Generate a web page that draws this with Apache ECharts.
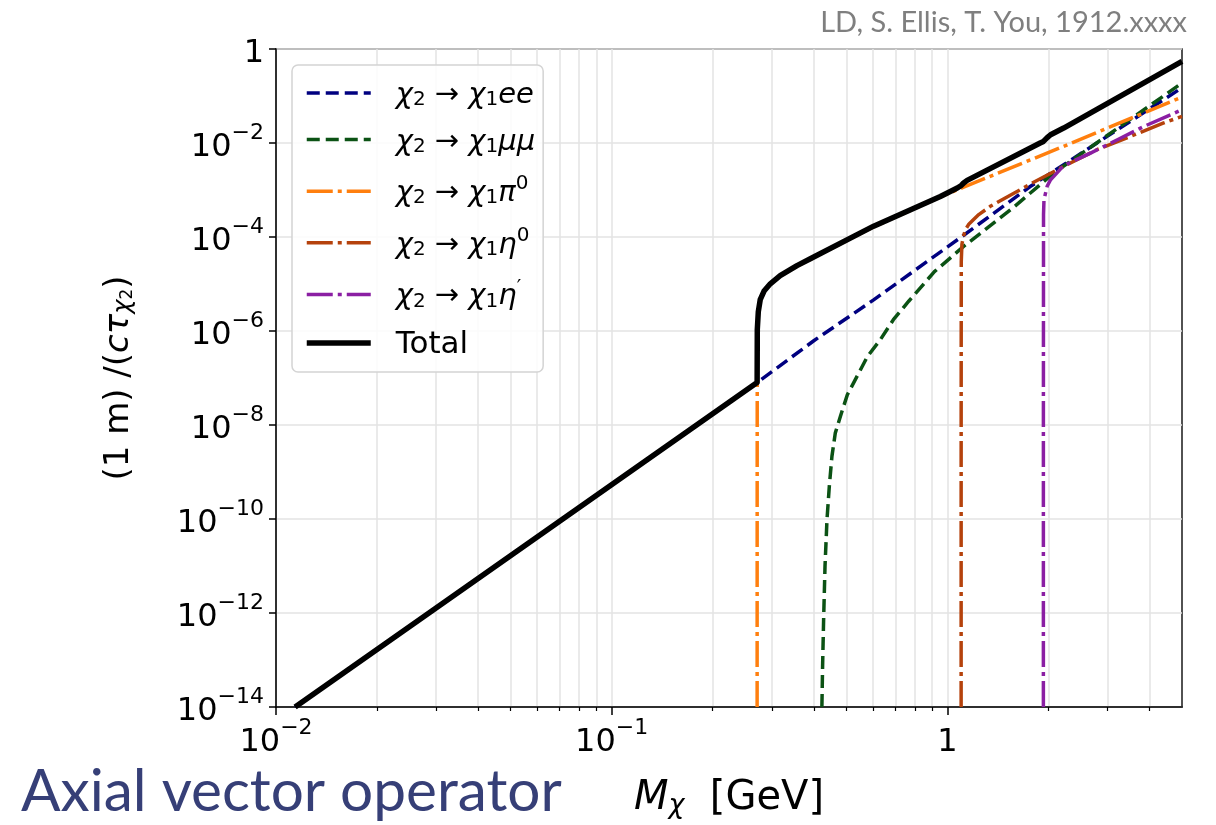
<!DOCTYPE html>
<html>
<head>
<meta charset="utf-8">
<script src="https://cdn.jsdelivr.net/npm/echarts@6/dist/echarts.min.js"></script>
<style>
  html, body { margin: 0; padding: 0; background: #fff; }
  #container { width: 1216px; height: 825px; }
</style>
</head>
<body>
<div id="container"></div>
<script>
// 1/(c tau) in units of 1/m versus M_chi in GeV
const eeMass = [0.0114, 0.2712, 0.40, 0.603, 1.10, 1.77, 2.79, 5.0];
const eeRate = [1e-14, 8.0e-8, 6.2e-7, 4.6e-6, 1.0e-4, 1.2e-3, 1.0e-2, 0.15];

const muMass = [0.4229, 0.4249, 0.4279, 0.432, 0.4379, 0.4449, 0.453, 0.4637, 0.48, 0.5035, 0.538, 0.5775, 0.631, 0.6904, 0.767, 0.915, 1.118, 1.576, 2.075, 5.0];
const muRate = [1e-14, 7.3e-14, 7.2e-13, 9.8e-12, 9.7e-11, 4.9e-10, 2.15e-9, 6.8e-9, 1.52e-8, 4.4e-8, 1.08e-7, 2.84e-7, 6.5e-7, 1.74e-6, 4.3e-6, 1.83e-5, 6.3e-5, 4.3e-4, 2.3e-3, 0.189];

const piMass = [0.2712, 0.2713, 0.2714, 0.2715, 0.2734, 0.277, 0.2848, 0.2968, 0.3176, 0.3564, 0.3906, 0.603, 0.953, 1.118, 2.22, 5.0];
const piRate = [1e-14, 1e-9, 1e-7, 1.0e-6, 2.5e-6, 4.55e-6, 7.1e-6, 9.9e-6, 1.47e-5, 2.4e-5, 3.35e-5, 1.65e-4, 7.1e-4, 1.15e-3, 8.5e-3, 0.095];

const etaMass = [1.099, 1.0992, 1.1, 1.105, 1.115, 1.132, 1.16, 1.24, 1.343, 1.79, 2.22, 2.79, 3.51, 4.41, 5.0];
const etaRate = [1e-14, 1e-8, 3e-5, 7e-5, 1.0e-4, 1.43e-4, 1.9e-4, 3.0e-4, 4.5e-4, 1.41e-3, 3.18e-3, 7.2e-3, 1.38e-2, 2.67e-2, 0.037];

const etapMass = [1.932, 1.9322, 1.934, 1.94, 1.983, 2.03, 2.075, 2.22, 2.67, 3.21, 3.85, 5.0];
const etapRate = [1e-14, 1e-8, 3e-4, 6.2e-4, 1.2e-3, 1.66e-3, 1.95e-3, 3.3e-3, 6.1e-3, 1.17e-2, 2.25e-2, 0.051];

const totalMass = [0.0114, 0.2712, 0.2715, 0.2734, 0.277, 0.2848, 0.2968, 0.3176, 0.3564, 0.3906, 0.603, 0.953, 1.07, 1.10, 1.118, 1.145, 1.89, 1.933, 1.983, 2.03, 2.22, 5.0];
const totalRate = [1e-14, 8.0e-8, 1.07e-6, 2.58e-6, 4.63e-6, 7.2e-6, 1.01e-5, 1.5e-5, 2.46e-5, 3.45e-5, 1.7e-4, 7.3e-4, 1.1e-3, 1.25e-3, 1.41e-3, 1.6e-3, 1.0e-2, 1.08e-2, 1.3e-2, 1.5e-2, 2.08e-2, 0.545];

const yTicks = [1e-14, 1e-12, 1e-10, 1e-8, 1e-6, 1e-4, 1e-2, 1];
const xTicks = [0.01, 0.1, 1];
const xMinorTicks = [0.02, 0.03, 0.04, 0.05, 0.06, 0.07, 0.08, 0.09,
                     0.2, 0.3, 0.4, 0.5, 0.6, 0.7, 0.8, 0.9, 2, 3, 4];

const pairs = (xs, ys) => xs.map((x, i) => [x, ys[i]]);

const powLabel = v => {
    const e = Math.round(Math.log10(v));
    return e === 0 ? '{b|1}' : '{b|10}{sup|\u2212' + (-e) + '}';
};
const tickRich = {
    b: { fontFamily: 'DejaVu Sans', fontSize: 32, lineHeight: 42, verticalAlign: 'bottom', color: '#000' },
    sup: { fontFamily: 'DejaVu Sans', fontSize: 22, lineHeight: 22, verticalAlign: 'top', color: '#000' }
};

const legendText = {
    ee: '{p|\u03c7}{sub|2}{n| \u2192 }{it|\u03c7}{sub|1}{it|ee}',
    mumu: '{p|\u03c7}{sub|2}{n| \u2192 }{it|\u03c7}{sub|1}{it|\u03bc\u03bc}',
    pi0: '{p|\u03c7}{sub|2}{n| \u2192 }{it|\u03c7}{sub|1}{it|\u03c0}{sup|0}',
    eta0: '{p|\u03c7}{sub|2}{n| \u2192 }{it|\u03c7}{sub|1}{it|\u03b7}{sup|0}',
    etap: '{p|\u03c7}{sub|2}{n| \u2192 }{it|\u03c7}{sub|1}{it|\u03b7}{sup|\u2032}',
    Total: '{t|Total}'
};

const dashed = [13, 6];
const dashDot = [26, 5, 4, 5];

const makeLine = (name, xs, ys, color, width, type) => ({
    name: name,
    type: 'line',
    data: pairs(xs, ys),
    showSymbol: false,
    symbol: 'none',
    smooth: false,
    clip: true,
    lineStyle: { color: color, width: width, type: type, cap: 'butt', join: 'round' },
    itemStyle: { color: color }
});

const myChart = echarts.init(document.getElementById('container'));
const option = {
    animation: false,
    backgroundColor: '#fff',
    title: [
        {
            text: 'Axial vector operator',
            left: 16, top: 758,
            textStyle: { fontFamily: 'Lato', fontSize: 58.5, fontWeight: 'normal', color: '#363f77' }
        },
        {
            text: 'LD, S. Ellis, T. You, 1912.xxxx',
            right: 24, top: 3,
            textStyle: { fontFamily: 'Lato', fontSize: 29, fontWeight: 'normal', color: '#7f7f7f' }
        }
    ],
    grid: {
        left: 276, right: 34, top: 49, bottom: 118,
        show: true, borderColor: '#1a1a1a', borderWidth: 1.5,
        outerBoundsMode: 'none'
    },
    legend: {
        orient: 'vertical',
        left: 292, top: 65,
        padding: [16, 8, 12, 12],
        itemGap: 17.6,
        itemWidth: 64, itemHeight: 14,
        backgroundColor: 'rgba(255,255,255,0.85)',
        borderColor: '#d4d4d4', borderWidth: 1.5, borderRadius: 6,
        selectedMode: false,
        itemStyle: { opacity: 0 },
        lineStyle: { width: 'inherit', type: 'inherit' },
        data: ['ee', 'mumu', 'pi0', 'eta0', 'etap', 'Total'],
        formatter: name => legendText[name],
        textStyle: {
            fontFamily: 'DejaVu Sans', fontSize: 29, color: '#000',
            rich: {
                p: { fontFamily: 'DejaVu Sans', fontStyle: 'italic', fontSize: 29, lineHeight: 34, verticalAlign: 'bottom', padding: [0, 0, 0, 20] },
                it: { fontFamily: 'DejaVu Sans', fontStyle: 'italic', fontSize: 29, lineHeight: 34, verticalAlign: 'bottom' },
                n: { fontFamily: 'DejaVu Sans', fontSize: 29, lineHeight: 34, verticalAlign: 'bottom' },
                sub: { fontFamily: 'DejaVu Sans', fontSize: 20, lineHeight: 16, verticalAlign: 'bottom' },
                sup: { fontFamily: 'DejaVu Sans', fontSize: 20, lineHeight: 19, verticalAlign: 'top' },
                t: { fontFamily: 'DejaVu Sans', fontSize: 31, lineHeight: 34, verticalAlign: 'bottom', padding: [0, 0, 0, 20] }
            }
        }
    },
    xAxis: [
        {
            type: 'log', logBase: 10, min: 0.01, max: 5,
            position: 'bottom',
            name: '{it|M}{sub|\u03c7}{n|  [GeV]}',
            nameLocation: 'middle', nameGap: 66,
            nameTextStyle: {
                rich: {
                    it: { fontFamily: 'DejaVu Sans', fontStyle: 'italic', fontSize: 40, lineHeight: 46, verticalAlign: 'bottom', color: '#000' },
                    sub: { fontFamily: 'DejaVu Sans', fontStyle: 'italic', fontSize: 27, lineHeight: 20, verticalAlign: 'bottom', color: '#000' },
                    n: { fontFamily: 'DejaVu Sans', fontSize: 40, lineHeight: 46, verticalAlign: 'bottom', color: '#000' }
                }
            },
            axisLine: { show: true, lineStyle: { color: '#000', width: 1.5 } },
            axisTick: { show: true, customValues: xTicks, length: 8, lineStyle: { color: '#000', width: 1.5 } },
            axisLabel: { customValues: xTicks, formatter: powLabel, margin: 10, rich: tickRich },
            splitLine: { show: true, lineStyle: { color: '#e3e3e3', width: 1.5 } },
            minorTick: { show: false }
        },
        {
            type: 'log', logBase: 10, min: 0.01, max: 5,
            position: 'bottom',
            axisLine: { show: false },
            axisTick: { show: true, customValues: xMinorTicks, length: 4, lineStyle: { color: '#000', width: 1.2 } },
            axisLabel: { show: false, customValues: xMinorTicks },
            splitLine: { show: true, lineStyle: { color: '#e3e3e3', width: 1.5 } }
        }
    ],
    yAxis: {
        type: 'log', logBase: 10, min: 1e-14, max: 1,
        name: '{n|(1 m) /(}{it|c\u03c4}{sub|\u03c7}{subsub|2}{n|)}',
        nameLocation: 'middle', nameGap: 140, nameRotate: 90,
        nameTextStyle: {
            rich: {
                n: { fontFamily: 'DejaVu Sans', fontSize: 34, lineHeight: 42, verticalAlign: 'bottom', color: '#000' },
                it: { fontFamily: 'DejaVu Sans', fontStyle: 'italic', fontSize: 34, lineHeight: 42, verticalAlign: 'bottom', color: '#000' },
                sub: { fontFamily: 'DejaVu Sans', fontStyle: 'italic', fontSize: 24, lineHeight: 22, verticalAlign: 'bottom', color: '#000' },
                subsub: { fontFamily: 'DejaVu Sans', fontSize: 17, lineHeight: 14, verticalAlign: 'bottom', color: '#000' }
            }
        },
        axisLine: { show: true, lineStyle: { color: '#000', width: 1.5 } },
        axisTick: { show: true, customValues: yTicks, length: 7, lineStyle: { color: '#000', width: 1.5 } },
        axisLabel: { customValues: yTicks, formatter: powLabel, margin: 12, rich: tickRich },
        splitLine: { show: true, lineStyle: { color: '#e3e3e3', width: 1.5 } },
        minorTick: { show: false }
    },
    series: [
        makeLine('ee', eeMass, eeRate, '#000080', 3.5, dashed),
        makeLine('mumu', muMass, muRate, '#0b5214', 3.5, dashed),
        makeLine('pi0', piMass, piRate, '#ff7f0e', 3.5, dashDot),
        makeLine('eta0', etaMass, etaRate, '#b5420c', 3.5, dashDot),
        makeLine('etap', etapMass, etapRate, '#8b1fa3', 3.5, dashDot),
        makeLine('Total', totalMass, totalRate, '#000', 5.5, 'solid')
    ]
};
myChart.setOption(option);
window.addEventListener('resize', () => {
    myChart.resize();
});
</script>
</body>
</html>
